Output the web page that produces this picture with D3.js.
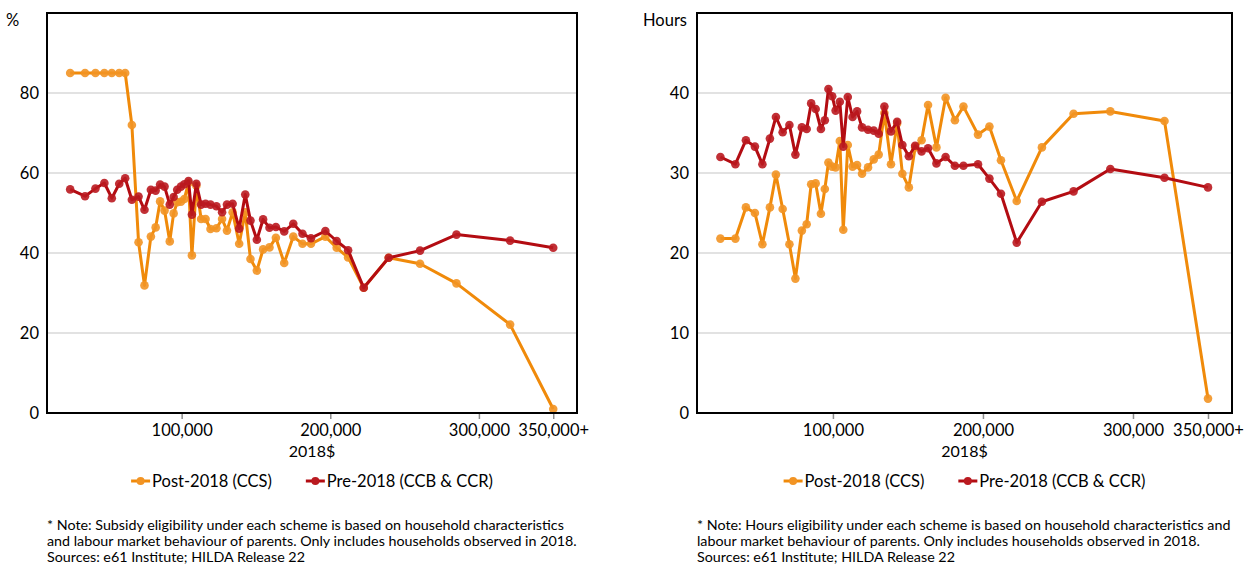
<!DOCTYPE html>
<html>
<head>
<meta charset="utf-8">
<script src="https://cdn.jsdelivr.net/npm/d3@7"></script>
<style>
  body { margin: 0; background: #ffffff; }
  svg { font-family: Lato, "Open Sans", sans-serif; }
</style>
</head>
<body>
<svg id="chart" width="1244" height="566"></svg>
<script>
// household income bins (2018$)
const incomes = [
  25000, 35000, 42000, 48000, 53000, 58000, 62000, 66500, 71000, 75000,
  79300, 82500, 85500, 88500, 92000, 94600, 97000, 99500, 101800, 104600,
  106900, 109900, 113100, 116100, 119400, 123400, 127200, 130500, 134300, 138700,
  142800, 146300, 150600, 154800, 159100, 163400, 169000, 175100, 181300, 187000,
  196700, 204300, 212000, 222500, 239300, 260400, 284900, 321000, 350000,
];

// subsidy rate, %
const postPct = [
  85, 85, 85, 85, 85, 85, 85, 72, 42.7, 31.9,
  44.1, 46.4, 52.9, 50.6, 42.9, 49.9, 52.7, 52.8, 53.5, 57.5,
  39.4, 56.8, 48.5, 48.5, 46, 46.2, 48.5, 45.6, 50.2, 42.3,
  50.2, 38.5, 35.6, 40.9, 41.4, 43.8, 37.5, 44.1, 42.3, 42.3,
  44.1, 41.3, 38.9, 31.3, 38.8, 37.3, 32.4, 22.1, 1.0,
];
const prePct = [
  55.9, 54.2, 56.1, 57.5, 53.7, 57.3, 58.7, 53.3, 54.1, 50.8,
  55.8, 55.6, 57.1, 56.6, 52.1, 54.0, 55.8, 56.6, 57.2, 58.0,
  49.6, 57.3, 52.1, 52.3, 52.1, 51.7, 50.2, 52.1, 52.3, 46.1,
  54.6, 48.1, 43.3, 48.4, 46.3, 46.5, 45.4, 47.3, 44.8, 43.7,
  45.5, 43.0, 40.7, 31.3, 38.8, 40.6, 44.6, 43.1, 41.3,
];

// subsidised hours
const postHours = [
  21.8, 21.8, 25.7, 25.0, 21.1, 25.7, 29.8, 25.5, 21.1, 16.8,
  22.8, 23.6, 28.6, 28.7, 24.9, 28.0, 31.3, 30.8, 30.7, 34.0,
  22.9, 33.5, 30.8, 31.0, 29.9, 30.7, 31.7, 32.3, 37.5, 31.1,
  36.2, 29.9, 28.2, 33.2, 34.1, 38.5, 33.2, 39.4, 36.6, 38.3,
  34.8, 35.8, 31.6, 26.5, 33.2, 37.4, 37.7, 36.5, 1.8,
];
const preHours = [
  32.0, 31.1, 34.1, 33.3, 31.1, 34.3, 37.0, 35.1, 36.0, 32.3,
  35.7, 35.5, 38.7, 38.0, 35.5, 36.6, 40.5, 39.6, 37.8, 38.9,
  33.3, 39.5, 37.0, 37.7, 35.7, 35.4, 35.3, 34.9, 38.3, 35.2,
  36.4, 33.5, 32.1, 33.4, 32.7, 33.1, 31.2, 32.0, 30.9, 30.9,
  31.1, 29.3, 27.4, 21.3, 26.4, 27.7, 30.5, 29.4, 28.2,
];

const xTicks = [100000, 200000, 300000, 350000];
const xTickLabels = ["100,000", "200,000", "300,000", "350,000+"];
const pctTicks = [0, 20, 40, 60, 80];
const hourTicks = [0, 10, 20, 30, 40];
const seriesNames = ["Post-2018 (CCS)", "Pre-2018 (CCB & CCR)"];

const colors = ["#f08a0a", "#b30c12"];
const dotColors = ["#f29424", "#ba1a20"];

const svg = d3.select("#chart");

function drawPanel(opts) {
  const x = d3.scaleLinear().domain([9400, 366000]).range([opts.left, opts.right]);
  const y = d3.scaleLinear().domain([0, opts.yMax]).range([opts.bottom, opts.top]);
  const g = svg.append("g");

  // horizontal grid
  g.selectAll("line.grid")
    .data(opts.yTicks.filter((d) => d > 0))
    .enter()
    .append("line")
    .attr("class", "grid")
    .attr("x1", opts.left)
    .attr("x2", opts.right)
    .attr("y1", (d) => y(d))
    .attr("y2", (d) => y(d))
    .style("stroke", "#d9d9d9")
    .style("stroke-width", 1.5);

  // y labels
  g.append("g")
    .attr("transform", `translate(${opts.left}, 0)`)
    .call(d3.axisLeft(y).tickValues(opts.yTicks).tickSize(0).tickPadding(8))
    .call((a) => a.select(".domain").remove())
    .selectAll("text")
    .style("font-family", "Lato")
    .style("font-size", "16.5px")
    .style("fill", "#000");

  // x axis
  const xAxis = d3.axisBottom(x)
    .tickValues(xTicks)
    .tickFormat((d, i) => xTickLabels[i])
    .tickSize(6)
    .tickPadding(5);
  const ax = g.append("g")
    .attr("transform", `translate(0, ${opts.bottom})`)
    .call(xAxis);
  ax.select(".domain").remove();
  ax.selectAll(".tick line").style("stroke", "#8c8c8c").style("stroke-width", 1.5);
  ax.selectAll("text")
    .style("font-family", "Lato")
    .style("font-size", "16.5px")
    .style("fill", "#000");

  // axis title
  g.append("text")
    .attr("x", (opts.left + opts.right) / 2)
    .attr("y", opts.bottom + 44)
    .attr("text-anchor", "middle")
    .style("font-size", "16px")
    .text("2018$");

  // unit label
  g.append("text")
    .attr("x", opts.unitX)
    .attr("y", 26)
    .style("font-size", "16.5px")
    .text(opts.unit);

  // lines and markers
  const line = d3.line()
    .x((d) => x(d[0]))
    .y((d) => y(d[1]));

  opts.series.forEach((vals, k) => {
    const pts = incomes.map((inc, i) => [inc, vals[i]]);
    g.append("path")
      .datum(pts)
      .attr("d", line)
      .style("fill", "none")
      .style("stroke", colors[k])
      .style("stroke-width", 3)
      .style("stroke-linejoin", "round");
    g.selectAll("circle.s" + k)
      .data(pts)
      .enter()
      .append("circle")
      .attr("class", "s" + k)
      .attr("cx", (d) => x(d[0]))
      .attr("cy", (d) => y(d[1]))
      .attr("r", 4.3)
      .style("fill", dotColors[k])
      .style("opacity", 0.9);
  });

  // frame
  g.append("rect")
    .attr("x", opts.left)
    .attr("y", opts.top)
    .attr("width", opts.right - opts.left)
    .attr("height", opts.bottom - opts.top)
    .style("fill", "none")
    .style("stroke", "#000")
    .style("stroke-width", 2);

  // legend, centred under the plot
  const leg = g.append("g");
  let cx = 0;
  seriesNames.forEach((name, k) => {
    const item = leg.append("g").attr("transform", `translate(${cx}, 0)`);
    item.append("line")
      .attr("x1", 0).attr("x2", 19)
      .attr("y1", 0).attr("y2", 0)
      .style("stroke", colors[k])
      .style("stroke-width", 3);
    item.append("circle")
      .attr("cx", 9.5).attr("cy", 0).attr("r", 4)
      .style("fill", dotColors[k]);
    const t = item.append("text")
      .attr("x", 21)
      .attr("y", 6)
      .style("font-size", "16.5px")
      .text(name);
    cx += 21 + t.node().getComputedTextLength() + 34;
  });
  const legW = cx - 34;
  leg.attr("transform", `translate(${(opts.left + opts.right) / 2 - legW / 2}, 481)`);

  // note
  g.append("g")
    .selectAll("text")
    .data(opts.note)
    .enter()
    .append("text")
    .attr("x", opts.left)
    .attr("y", (d, i) => 530 + i * 16)
    .style("font-size", "14.3px")
    .text((d) => d);
}

drawPanel({
  left: 47, right: 577, top: 13, bottom: 413,
  yMax: 100, yTicks: pctTicks, unit: "%", unitX: 6,
  series: [postPct, prePct],
  note: [
    "* Note: Subsidy eligibility under each scheme is based on household characteristics",
    "and labour market behaviour of parents. Only includes households observed in 2018.",
    "Sources: e61 Institute; HILDA Release 22",
  ],
});

drawPanel({
  left: 697, right: 1232, top: 13, bottom: 413,
  yMax: 50, yTicks: hourTicks, unit: "Hours", unitX: 643,
  series: [postHours, preHours],
  note: [
    "* Note: Hours eligibility under each scheme is based on household characteristics and",
    "labour market behaviour of parents. Only includes households observed in 2018.",
    "Sources: e61 Institute; HILDA Release 22",
  ],
});
</script>
</body>
</html>
